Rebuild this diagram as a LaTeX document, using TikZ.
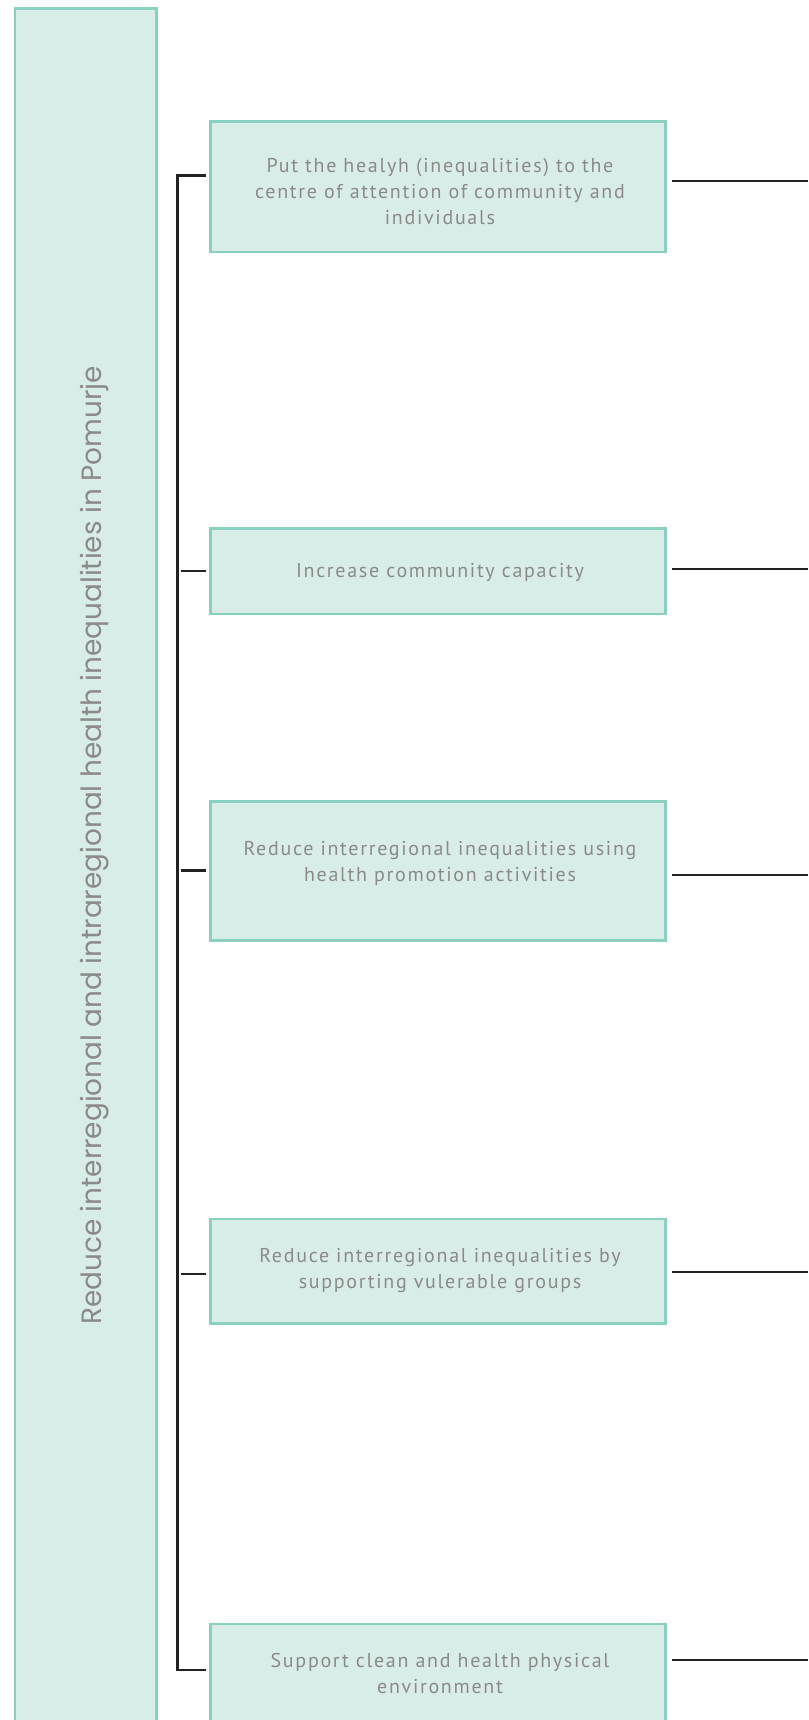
\documentclass[tikz,border=0pt]{standalone}
\usepackage{fontspec}
\setmainfont{PT Sans}
\newfontfamily\vfont{Poppins}
\newfontfamily\bfont[LetterSpace=8.5]{PT Sans}
\definecolor{boxfill}{HTML}{D9EDE8}
\definecolor{boxline}{HTML}{88D0C0}
\definecolor{txtgray}{HTML}{8A8A8A}
\definecolor{linedark}{HTML}{222222}
\begin{document}
\begin{tikzpicture}[x=1pt,y=-1pt,
  box/.style={draw=boxline, fill=boxfill, line width=2.5pt, minimum width=455pt, inner sep=0pt},
  boxtext/.style={text=txtgray, font=\bfont\fontsize{20}{26}\selectfont, align=center, inner sep=0pt},
  conn/.style={draw=linedark, line width=2.4pt, line join=miter}]
\useasboundingbox (0,0) rectangle (808,1720);
\clip (0,0) rectangle (808,1720);
\fill[white] (0,0) rectangle (808,1720);

% goal box
\node[box, minimum width=141.6pt, minimum height=1760pt, anchor=north west] (goal) at (13.8,7.4) {};
\node[text=txtgray, font=\vfont\fontsize{27.9}{30}\selectfont, rotate=90, anchor=base, inner sep=0pt] (goaltext) at (101.2,845.5) {Reduce interregional and intraregional health inequalities in Pomurje};

% objective boxes
\node[box, minimum height=130.5pt] (b1) at (438,187) {};
\node[box, minimum height=85.6pt] (b2) at (438,571.2) {};
\node[box, minimum height=139.2pt] (b3) at (438,871) {};
\node[box, minimum height=104.3pt] (b4) at (438,1271.2) {};
\node[box, minimum height=137.5pt, anchor=north] (b5) at (438,1622.5) {};

\node[boxtext] (t1) at (440,191.8) {Put the healyh (inequalities) to the\\centre of attention of community and\\individuals};
\node[boxtext] (t2) at (440,572.2) {Increase community capacity};
\node[boxtext] (t3) at (440,863.8) {Reduce interregional inequalities using\\health promotion activities};
\node[boxtext] (t4) at (440,1271) {Reduce interregional inequalities by\\supporting vulerable groups};
\node[boxtext] (t5) at (440,1673) {Support clean and health physical\\environment};

% bracket
\coordinate (k1) at (177.6,175.4);
\coordinate (k5) at (177.6,1669.7);
\coordinate (s1) at (205.5,175.4);
\coordinate (s5) at (205.5,1669.7);
\draw[conn] (s1) -- (k1) -- (k5) -- (s5);
\coordinate (m2) at (180.5,571.2);
\coordinate (s2) at (205.5,571.2);
\coordinate (m3) at (180.5,870.5);
\coordinate (s3) at (205.5,870.5);
\coordinate (m4) at (180.5,1273.9);
\coordinate (s4) at (205.5,1273.9);
\draw[conn] (m2) -- (s2);
\draw[conn] (m3) -- (s3);
\draw[conn] (m4) -- (s4);

% outgoing lines
\coordinate (r1) at (672,180.9); \coordinate (e1) at (808,180.9);
\coordinate (r2) at (672,569);   \coordinate (e2) at (808,569);
\coordinate (r3) at (672,874.9); \coordinate (e3) at (808,874.9);
\coordinate (r4) at (672,1271.7);\coordinate (e4) at (808,1271.7);
\coordinate (r5) at (672,1659.8);\coordinate (e5) at (808,1659.8);
\draw[conn] (r1) -- (e1);
\draw[conn] (r2) -- (e2);
\draw[conn] (r3) -- (e3);
\draw[conn] (r4) -- (e4);
\draw[conn] (r5) -- (e5);
\end{tikzpicture}
\end{document}
